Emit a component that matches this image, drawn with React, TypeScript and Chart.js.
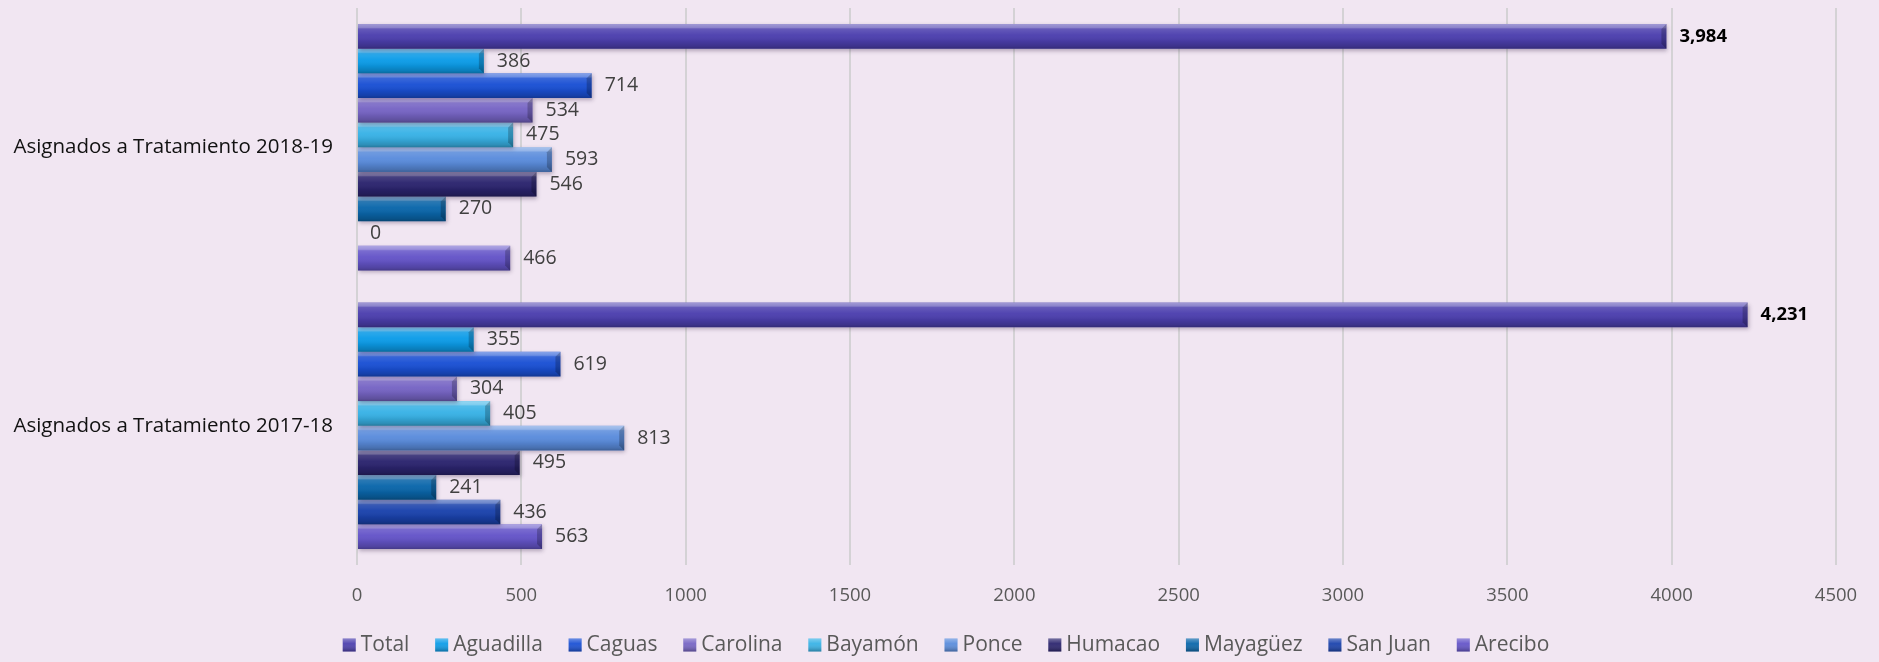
import React, { useEffect, useRef } from "react";
import { Chart, registerables } from "chart.js";

Chart.register(...registerables);

const categories = ["Asignados a Tratamiento 2018-19", "Asignados a Tratamiento 2017-18"];
const seriesNames = ["Total", "Aguadilla", "Caguas", "Carolina", "Bayamón", "Ponce", "Humacao", "Mayagüez", "San Juan", "Arecibo"];
const totalValues = [3984, 4231];
const aguadillaValues = [386, 355];
const caguasValues = [714, 619];
const carolinaValues = [534, 304];
const bayamonValues = [475, 405];
const ponceValues = [593, 813];
const humacaoValues = [546, 495];
const mayaguezValues = [270, 241];
const sanJuanValues = [0, 436];
const areciboValues = [466, 563];
const xTicks = [0, 500, 1000, 1500, 2000, 2500, 3000, 3500, 4000, 4500];

const seriesValues = [totalValues, aguadillaValues, caguasValues, carolinaValues, bayamonValues, ponceValues, humacaoValues, mayaguezValues, sanJuanValues, areciboValues];
const seriesColors = ["#4C3FAE", "#0C9CE8", "#1A50D4", "#7664C4", "#38B2E6", "#5A8CDC", "#2B246E", "#0A66AA", "#1A42AC", "#6454C8"];

const BG = "#F1E6F2";
const FONT = "'Open Sans', 'Noto Sans', sans-serif";

const bevelPlugin = {
  id: "bevel",
  beforeDatasetDraw(chart: any) {
    const ctx = chart.ctx;
    ctx.save();
    ctx.shadowColor = "rgba(60,40,80,0.35)";
    ctx.shadowBlur = 4;
    ctx.shadowOffsetX = 1;
    ctx.shadowOffsetY = 2;
  },
  afterDatasetDraw(chart: any, args: any) {
    const ctx = chart.ctx;
    ctx.restore();
    const meta = args.meta;
    meta.data.forEach((el: any) => {
      const { x, y, base, height } = el.getProps(["x", "y", "base", "height"], true);
      const left = Math.min(x, base);
      const right = Math.max(x, base);
      const w = right - left;
      if (w < 1) return;
      const top = y - height / 2;
      const bot = y + height / 2;
      ctx.save();
      const g = ctx.createLinearGradient(0, top, 0, bot);
      g.addColorStop(0, "rgba(255,255,255,0.48)");
      g.addColorStop(0.14, "rgba(255,255,255,0.36)");
      g.addColorStop(0.2, "rgba(255,255,255,0.14)");
      g.addColorStop(0.45, "rgba(255,255,255,0.03)");
      g.addColorStop(0.7, "rgba(0,0,0,0.08)");
      g.addColorStop(0.9, "rgba(0,0,0,0.2)");
      g.addColorStop(1, "rgba(0,0,0,0.32)");
      ctx.fillStyle = g;
      ctx.fillRect(left, top, w, height);
      const bw = Math.min(5, w / 2);
      ctx.beginPath();
      ctx.moveTo(right - bw, top + bw);
      ctx.lineTo(right, top);
      ctx.lineTo(right, bot);
      ctx.lineTo(right - bw, bot - bw);
      ctx.closePath();
      ctx.fillStyle = "rgba(0,0,0,0.22)";
      ctx.fill();
      ctx.restore();
    });
  },
};

const labelPlugin = {
  id: "valueLabels",
  afterDatasetsDraw(chart: any) {
    const ctx = chart.ctx;
    chart.data.datasets.forEach((ds: any, di: number) => {
      const meta = chart.getDatasetMeta(di);
      if (meta.hidden) return;
      meta.data.forEach((el: any, i: number) => {
        const v = ds.data[i];
        const isTotal = di === 0;
        ctx.save();
        ctx.font = (isTotal ? "bold 18.5px " : "19.5px ") + FONT;
        ctx.fillStyle = isTotal ? "#000000" : "#404040";
        ctx.textAlign = "left";
        ctx.textBaseline = "middle";
        const text = isTotal ? v.toLocaleString("en-US") : String(v);
        ctx.fillText(text, Math.max(el.x, el.base) + 13, el.y);
        ctx.restore();
      });
    });
  },
};

const legendPlugin = {
  id: "bottomLegend",
  afterDraw(chart: any) {
    const ctx = chart.ctx;
    const box = 13;
    const gap = 5;
    const itemGap = 25.8;
    const cy = 645;
    ctx.save();
    ctx.font = "21px " + FONT;
    const items = chart.data.datasets.map((ds: any) => ({
      label: ds.label,
      color: ds.backgroundColor,
      tw: ctx.measureText(ds.label).width,
    }));
    const total = items.reduce((s: number, it: any) => s + box + gap + it.tw, 0) + itemGap * (items.length - 1);
    let x = 946 - total / 2;
    ctx.textBaseline = "middle";
    ctx.textAlign = "left";
    items.forEach((it: any) => {
      const top = cy - box / 2;
      ctx.fillStyle = it.color;
      ctx.fillRect(x, top, box, box);
      const g = ctx.createLinearGradient(x, top, x, top + box);
      g.addColorStop(0, "rgba(255,255,255,0.35)");
      g.addColorStop(0.4, "rgba(255,255,255,0.05)");
      g.addColorStop(1, "rgba(0,0,0,0.3)");
      ctx.fillStyle = g;
      ctx.fillRect(x, top, box, box);
      ctx.fillStyle = "#595959";
      ctx.fillText(it.label, x + box + gap, cy);
      x += box + gap + it.tw + itemGap;
    });
    ctx.restore();
  },
};

export default function App() {
  const ref = useRef<HTMLCanvasElement | null>(null);
  useEffect(() => {
    document.body.style.margin = "0";
    document.body.style.background = BG;
    const canvas = ref.current;
    if (!canvas) return;
    const chart = new Chart(canvas, {
      type: "bar",
      data: {
        labels: categories,
        datasets: seriesNames.map((name, i) => ({
          label: name,
          data: seriesValues[i],
          backgroundColor: seriesColors[i],
          borderWidth: 0,
          categoryPercentage: 0.885,
          barPercentage: 1.0,
        })),
      },
      options: {
        indexAxis: "y",
        animation: false,
        responsive: false,
        maintainAspectRatio: false,
        layout: { padding: { top: 8, right: 43, left: 0, bottom: 50 } },
        plugins: {
          tooltip: { enabled: false },
          legend: { display: false },
        },
        scales: {
          x: {
            min: 0,
            max: 4500,
            afterBuildTicks(scale: any) {
              scale.ticks = xTicks.map((v) => ({ value: v }));
            },
            afterFit(scale: any) {
              scale.height = 47;
              scale.paddingTop = 0;
              scale.paddingBottom = 0;
            },
            grid: { color: "rgba(205,205,205,0.8)", lineWidth: 2, drawTicks: false },
            border: { display: false },
            ticks: {
              color: "#595959",
              font: { family: FONT, size: 18.5 },
              padding: 20,
              callback: (v: any) => String(v),
            },
          },
          y: {
            grid: { display: false, drawTicks: false },
            border: { display: false },
            afterFit(scale: any) {
              scale.width = 357;
              scale.paddingTop = 0;
              scale.paddingBottom = 0;
            },
            ticks: { color: "#111111", font: { family: FONT, size: 20.5 }, padding: 24 },
          },
        },
      },
      plugins: [bevelPlugin, labelPlugin, legendPlugin],
    } as any);
    return () => chart.destroy();
  }, []);
  return (
    <div style={{ width: 1879, height: 662, background: BG }}>
      <canvas ref={ref} width={1879} height={662} style={{ display: "block" }} />
    </div>
  );
}
